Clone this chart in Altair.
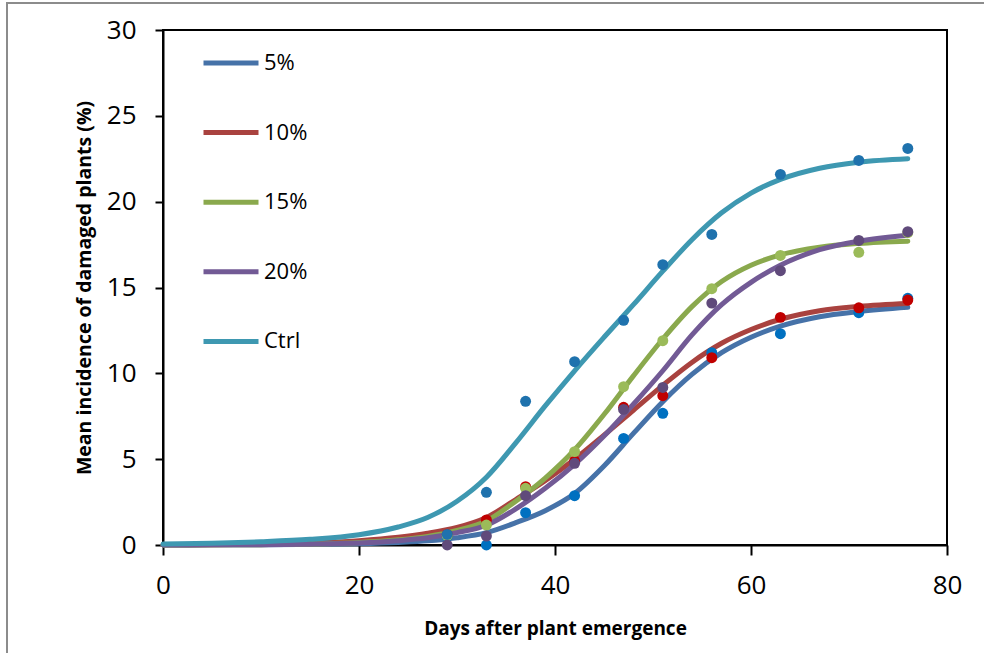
import altair as alt
import pandas as pd

# Treatments, in legend order
series_names = ["5%", "10%", "15%", "20%", "Ctrl"]

# Observed mean incidence (%) on each assessment day
obs_days = [29, 33, 37, 42, 47, 51, 56, 63, 71, 76]
obs_5 = [0.5, 0.0, 1.88, 2.87, 6.21, 7.67, 11.2, 12.31, 13.53, 14.37]
obs_10 = [0.6, 1.46, 3.4, 4.89, 8.02, 8.7, 10.91, 13.26, 13.82, 14.27]
obs_15 = [0.55, 1.16, 3.3, 5.44, 9.22, 11.9, 14.93, 16.87, 17.05, 18.2]
obs_20 = [0.0, 0.52, 2.87, 4.76, 7.9, 9.18, 14.09, 15.98, 17.74, 18.25]
obs_ctrl = [0.62, 3.07, 8.37, 10.68, 13.09, 16.33, 18.09, 21.59, 22.4, 23.1]

# Fitted progress curves, sampled along the day axis
fit_days = [0, 5, 10, 15, 20, 24, 27, 30, 33, 36, 39, 42, 45, 48, 51, 54, 57, 60, 63, 67, 71, 76]
fit_5 = [0.0, 0.01, 0.02, 0.04, 0.08, 0.15, 0.24, 0.42, 0.72, 1.3, 2.0, 3.0, 4.6, 6.5,
         8.35, 9.95, 11.2, 12.1, 12.75, 13.3, 13.6, 13.85]
fit_10 = [0.01, 0.02, 0.05, 0.11, 0.25, 0.45, 0.68, 1.02, 1.6, 2.65, 3.75, 5.0, 6.4, 7.85,
          9.3, 10.65, 11.75, 12.55, 13.15, 13.65, 13.9, 14.07]
fit_15 = [0.0, 0.01, 0.02, 0.05, 0.14, 0.3, 0.5, 0.85, 1.4, 2.55, 3.9, 5.55, 7.6, 9.85,
          12.0, 13.9, 15.35, 16.3, 16.9, 17.35, 17.57, 17.7]
fit_20 = [0.0, 0.01, 0.02, 0.05, 0.12, 0.25, 0.42, 0.72, 1.15, 2.1, 3.3, 4.7, 6.35, 8.2,
          10.15, 12.25, 14.0, 15.3, 16.3, 17.2, 17.7, 18.05]
fit_ctrl = [0.06, 0.1, 0.19, 0.33, 0.6, 1.05, 1.6, 2.55, 3.95, 5.95, 8.1, 10.15, 12.1, 14.0,
            15.95, 17.8, 19.35, 20.5, 21.3, 21.95, 22.3, 22.5]

line_colors = ["#4672A8", "#A9423F", "#8AA94D", "#725A95", "#3E98B1"]
point_colors = ["#0070C0", "#C00000", "#9BBB59", "#604A7B", "#1F72AD"]

obs_all = [obs_5, obs_10, obs_15, obs_20, obs_ctrl]
fit_all = [fit_5, fit_10, fit_15, fit_20, fit_ctrl]

obs_rows = []
fit_rows = []
for i, name in enumerate(series_names):
    for d, v in zip(obs_days, obs_all[i]):
        obs_rows.append({"series": name, "order": i, "day": d, "value": v})
    for d, v in zip(fit_days, fit_all[i]):
        fit_rows.append({"series": name, "order": i, "day": d, "value": v})
obs_df = pd.DataFrame(obs_rows)
fit_df = pd.DataFrame(fit_rows)

FONT = "Open Sans"

x_enc = alt.X(
    "day:Q",
    scale=alt.Scale(domain=[0, 80], nice=False),
    axis=alt.Axis(values=[0, 20, 40, 60, 80], title="Days after plant emergence"),
)
y_enc = alt.Y(
    "value:Q",
    scale=alt.Scale(domain=[0, 30], nice=False),
    axis=alt.Axis(values=[0, 5, 10, 15, 20, 25, 30],
                  title="Mean incidence of damaged plants (%)",
                  titleX=-79, titleBaseline="middle"),
)

curves = alt.Chart(fit_df).mark_line(
    strokeWidth=5, strokeCap="round", interpolate="monotone"
).encode(
    x=x_enc,
    y=y_enc,
    color=alt.Color(
        "series:N",
        scale=alt.Scale(domain=series_names, range=line_colors),
        legend=alt.Legend(
            title=None,
            orient="none",
            legendX=38,
            legendY=3,
            symbolType="stroke",
            symbolSize=3025,
            symbolStrokeWidth=5,
            labelFont=FONT,
            labelFontSize=22,
            labelColor="black",
            labelOffset=3,
            rowPadding=28.6,
            padding=0,
        ),
    ),
    order=alt.Order("order:Q"),
)

points = alt.Chart(obs_df).mark_circle(size=120, opacity=1).encode(
    x=x_enc,
    y=y_enc,
    fill=alt.Fill(
        "series:N",
        scale=alt.Scale(domain=series_names, range=point_colors),
        legend=None,
    ),
    order=alt.Order("order:Q"),
)

frame_df = pd.DataFrame({"k": [0]})
outer_left = alt.Chart(frame_df).mark_rule(color="#8C8C8C", strokeWidth=2).encode(
    x=alt.value(-156), y=alt.value(-27), y2=alt.value(700)
)
outer_top = alt.Chart(frame_df).mark_rule(color="#8C8C8C", strokeWidth=2).encode(
    x=alt.value(-157), x2=alt.value(900), y=alt.value(-27)
)

chart = alt.layer(outer_left, outer_top, curves, points).resolve_scale(
    color="independent", fill="independent"
).properties(
    width=784,
    height=515,
    autosize=alt.AutoSizeParams(type="none"),
    padding={"left": 163, "top": 30, "right": 37, "bottom": 108},
    background="white",
).configure_view(
    stroke="black", strokeWidth=2
).configure_axis(
    grid=False,
    domainColor="black",
    domainWidth=2,
    tickColor="black",
    tickWidth=2,
    labelFont=FONT,
    labelFontSize=26,
    labelColor="black",
    labelFlush=False,
    titleFont=FONT,
    titleFontSize=19,
    titleFontWeight="bold",
    titleColor="black",
).configure_axisX(
    tickSize=10,
    labelPadding=17,
    titlePadding=21,
).configure_axisY(
    tickSize=8,
    labelPadding=19,
    titleFontSize=19.5,
)

chart.save("out.html", embed_options={"renderer": "svg", "actions": False})
